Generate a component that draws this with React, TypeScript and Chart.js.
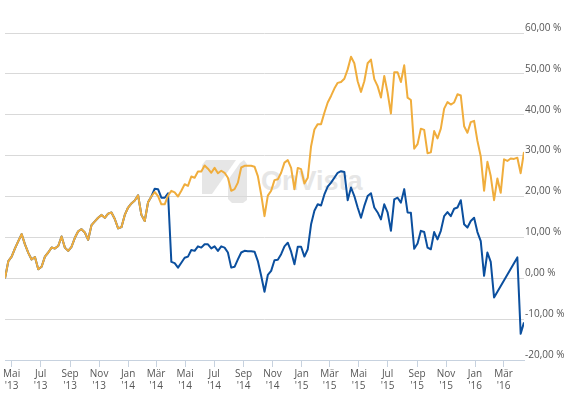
import React, { useEffect, useRef } from "react";
import { Chart, registerables } from "chart.js";

Chart.register(...registerables);

// Weekly observation dates
const dates: string[] = [
  "2013-04-17","2013-04-24","2013-05-01","2013-05-08","2013-05-15","2013-05-22","2013-05-29","2013-06-05","2013-06-12","2013-06-19",
  "2013-06-26","2013-07-03","2013-07-10","2013-07-17","2013-07-24","2013-07-31","2013-08-07","2013-08-14","2013-08-21","2013-08-28",
  "2013-09-04","2013-09-11","2013-09-18","2013-09-25","2013-10-02","2013-10-09","2013-10-16","2013-10-23","2013-10-30","2013-11-06",
  "2013-11-13","2013-11-20","2013-11-27","2013-12-04","2013-12-11","2013-12-18","2013-12-25",
  "2014-01-01","2014-01-08","2014-01-15","2014-01-22","2014-01-29","2014-02-05","2014-02-12","2014-02-19","2014-02-26","2014-03-05",
  "2014-03-12","2014-03-19","2014-03-26","2014-04-02","2014-04-09","2014-04-16","2014-04-23","2014-04-30","2014-05-07","2014-05-14",
  "2014-05-21","2014-05-28","2014-06-04","2014-06-11","2014-06-18","2014-06-25","2014-07-02","2014-07-09","2014-07-16","2014-07-23",
  "2014-07-30","2014-08-06","2014-08-13","2014-08-20","2014-08-27","2014-09-03","2014-09-10","2014-09-17","2014-09-24","2014-10-01",
  "2014-10-08","2014-10-15","2014-10-22","2014-10-29","2014-11-05","2014-11-12","2014-11-19","2014-11-26","2014-12-03","2014-12-10",
  "2014-12-17","2014-12-24","2014-12-31",
  "2015-01-07","2015-01-14","2015-01-21","2015-01-28","2015-02-04","2015-02-11","2015-02-18","2015-02-25","2015-03-04","2015-03-11",
  "2015-03-18","2015-03-25","2015-04-01","2015-04-08","2015-04-15","2015-04-22","2015-04-29","2015-05-06","2015-05-13","2015-05-20",
  "2015-05-27","2015-06-03","2015-06-10","2015-06-17","2015-06-24","2015-07-01","2015-07-08","2015-07-15","2015-07-22","2015-07-29",
  "2015-08-05","2015-08-12","2015-08-19","2015-08-26","2015-09-02","2015-09-09","2015-09-16","2015-09-23","2015-09-30","2015-10-07",
  "2015-10-14","2015-10-21","2015-10-28","2015-11-04","2015-11-11","2015-11-18","2015-11-25","2015-12-02","2015-12-09","2015-12-16",
  "2015-12-23","2015-12-30",
  "2016-01-06","2016-01-13","2016-01-20","2016-01-27","2016-02-03","2016-02-10","2016-02-17","2016-02-24","2016-03-02","2016-03-09",
  "2016-03-16","2016-03-23","2016-03-30","2016-04-06","2016-04-13",
];

// Performance in % (orange series)
const seriesOrange: number[] = [
  0.0, 4.2, 5.3, 7.3, 9.1, 10.8, 8.3, 6.2, 4.6, 5.2,
  2.2, 2.8, 5.3, 6.3, 7.5, 7.3, 7.9, 10.2, 7.5, 6.7,
  7.7, 9.9, 11.5, 12.0, 11.2, 9.4, 13.0, 13.9, 14.8, 15.5,
  14.8, 15.8, 16.1, 14.5, 12.2, 12.5, 15.5, 17.3, 18.3, 19.0,
  20.3, 15.5, 14.0, 18.6, 20.0, 21.1, 20.1, 18.1, 18.1, 20.2,
  21.4, 21.0, 20.0, 21.4, 23.0, 22.6, 24.9, 24.6, 26.1, 26.1,
  27.6, 26.8, 25.8, 27.0, 25.7, 26.3, 25.8, 24.6, 21.4, 21.8,
  23.4, 27.1, 27.5, 27.5, 27.5, 27.3, 25.0, 20.5, 15.2, 20.2,
  21.4, 24.0, 24.2, 25.8, 28.3, 28.9, 27.0, 21.8, 27.0, 26.7,
  23.2, 24.6, 32.3, 36.4, 37.7, 37.7, 40.5, 43.0, 44.6, 46.4,
  47.8, 48.0, 48.8, 51.1, 54.2, 52.6, 48.2, 45.6, 48.2, 52.6,
  53.5, 48.7, 47.0, 44.2, 49.5, 45.4, 40.3, 50.4, 50.4, 48.0,
  52.1, 44.2, 43.6, 31.7, 32.8, 36.6, 36.3, 30.6, 30.8, 36.0,
  34.2, 36.6, 41.5, 43.1, 42.5, 43.0, 45.0, 44.7, 37.2, 35.6,
  38.2, 38.5, 33.6, 29.8, 21.4, 28.5, 25.0, 19.1, 24.4, 20.9,
  29.1, 28.7, 29.3, 29.2, 29.5, 25.7, 30.9,
];

// Performance in % (blue series); null = no quote
const seriesBlue: (number | null)[] = [
  0.0, 4.2, 5.3, 7.3, 9.1, 10.8, 8.3, 6.2, 4.6, 5.2,
  2.2, 2.8, 5.3, 6.3, 7.5, 7.3, 7.9, 10.2, 7.5, 6.7,
  7.7, 9.9, 11.5, 12.0, 11.2, 9.4, 13.0, 13.9, 14.8, 15.5,
  14.8, 15.8, 16.1, 14.5, 12.2, 12.5, 15.5, 17.3, 18.3, 19.0,
  20.3, 15.5, 14.0, 18.6, 20.0, 21.9, 21.8, 19.7, 19.7, 20.8,
  4.0, 3.7, 2.6, 3.8, 5.0, 5.3, 6.9, 6.7, 7.8, 7.5,
  8.3, 8.3, 7.3, 7.8, 6.7, 7.8, 7.5, 6.3, 2.6, 2.8,
  4.6, 6.3, 6.7, 6.6, 6.6, 6.5, 4.2, 0.6, -3.3, 0.8,
  1.8, 4.4, 4.5, 5.9, 7.8, 8.7, 6.5, 3.4, 7.7, 7.7,
  5.3, 7.1, 13.2, 16.5, 18.1, 17.8, 20.5, 22.4, 23.4, 24.6,
  25.8, 26.2, 26.0, 19.1, 22.2, 20.1, 17.3, 14.8, 17.7, 20.1,
  20.8, 17.3, 16.1, 14.4, 18.1, 16.1, 11.6, 19.3, 19.7, 18.5,
  21.8, 16.1, 16.0, 7.2, 8.5, 11.6, 11.3, 7.5, 7.1, 11.3,
  9.5, 11.6, 15.2, 16.2, 15.2, 17.0, 17.3, 19.1, 13.2, 12.4,
  14.0, 14.8, 11.3, 9.1, 0.6, 6.3, 4.0, -4.7, null, null,
  null, null, null, null, 5.1, -13.6, -10.8,
];

const tickDates: string[] = [
  "2013-05-01","2013-07-01","2013-09-01","2013-11-01",
  "2014-01-01","2014-03-01","2014-05-01","2014-07-01","2014-09-01","2014-11-01",
  "2015-01-01","2015-03-01","2015-05-01","2015-07-01","2015-09-01","2015-11-01",
  "2016-01-01","2016-03-01",
];
const monthNames: string[] = ["Jan","Feb","Mär","Apr","Mai","Jun","Jul","Aug","Sep","Okt","Nov","Dez"];

const yMin = -20;
const yMax = 60;
const yStep = 10;

const ORANGE = "#F0AD3C";
const BLUE = "#0B4F9E";
const FONT = "'Open Sans', 'Liberation Sans', Arial, sans-serif";

const ts = (d: string) => Date.parse(d + "T00:00:00Z");

const tickLabel = (d: string): string[] => {
  const [y, m] = d.split("-");
  return [monthNames[parseInt(m, 10) - 1], "'" + y.slice(2)];
};

export default function App() {
  const canvasRef = useRef<HTMLCanvasElement | null>(null);

  useEffect(() => {
    document.body.style.margin = "0";
    const canvas = canvasRef.current;
    if (!canvas) return;
    const chart = new Chart(canvas, {
      type: "line",
      data: {
        datasets: [
          {
            label: "Orange",
            data: dates.map((d, i) => ({ x: ts(d), y: seriesOrange[i] })),
            borderColor: ORANGE,
            backgroundColor: ORANGE,
            borderWidth: 2,
            pointRadius: 0,
            tension: 0,
            borderJoinStyle: "round",
            fill: false,
          },
          {
            label: "Blue",
            data: dates.map((d, i) => ({ x: ts(d), y: seriesBlue[i] })),
            borderColor: BLUE,
            backgroundColor: BLUE,
            borderWidth: 2,
            pointRadius: 0,
            tension: 0,
            borderJoinStyle: "round",
            spanGaps: true,
            fill: false,
          },
        ],
      },
      options: {
        animation: false,
        responsive: false,
        devicePixelRatio: 1,
        layout: { padding: { left: 5, top: 33, right: 0, bottom: 0 } },
        plugins: {
          legend: { display: false },
          tooltip: { enabled: false },
        },
        scales: {
          x: {
            type: "linear",
            min: ts(dates[0]),
            max: ts(dates[dates.length - 1]),
            afterBuildTicks: (scale: any) => {
              scale.ticks = tickDates.map((d) => ({ value: ts(d) }));
            },
            afterFit: (scale: any) => {
              scale.height = 34;
              scale.paddingLeft = 0;
              scale.paddingRight = 0;
            },
            grid: {
              drawOnChartArea: false,
              drawTicks: true,
              tickLength: 7,
              color: "#c7d2df",
            },
            border: { display: true, color: "#c7d2df", width: 1 },
            ticks: {
              autoSkip: false,
              maxRotation: 0,
              minRotation: 0,
              padding: 1,
              color: "#555555",
              font: { family: FONT, size: 10, lineHeight: 1.2 },
              callback: (_v: any, index: number) => tickLabel(tickDates[index]),
            },
          },
          y: {
            type: "linear",
            position: "right",
            min: yMin,
            max: yMax,
            afterFit: (scale: any) => {
              scale.width = 51;
              scale.paddingTop = 0;
              scale.paddingBottom = 0;
            },
            grid: { color: "#d9d9d9", drawTicks: false, lineWidth: 1 },
            border: { display: false },
            ticks: {
              stepSize: yStep,
              padding: 1,
              labelOffset: -5,
              color: "#555555",
              font: { family: FONT, size: 10 },
              callback: (v: any) => Number(v).toFixed(2).replace(".", ",") + " %",
            },
          },
        },
      },
    });
    return () => chart.destroy();
  }, []);

  return (
    <div style={{ position: "absolute", left: 0, top: 0, width: 575, height: 394, background: "#ffffff" }}>
      <svg
        width={50}
        height={48}
        style={{ position: "absolute", left: 200, top: 158 }}
        viewBox="0 0 50 48"
      >
        <polygon points="2,7 6,2 36,2 12,36 2,36" fill="#e6e6e6" />
        <polygon points="40,5 44,2 47,6 47,42 43,45 32,45 28,41 28,22" fill="#e6e6e6" />
      </svg>
      <div
        style={{
          position: "absolute",
          left: 261,
          top: 168,
          fontFamily: "Arial, 'Liberation Sans', sans-serif",
          fontWeight: "bold",
          fontSize: 27,
          lineHeight: "27px",
          color: "#e6e6e6",
          whiteSpace: "nowrap",
        }}
      >
        OnVista
      </div>
      <canvas
        ref={canvasRef}
        width={575}
        height={394}
        style={{ position: "absolute", left: 0, top: 0, width: 575, height: 394 }}
      />
    </div>
  );
}
